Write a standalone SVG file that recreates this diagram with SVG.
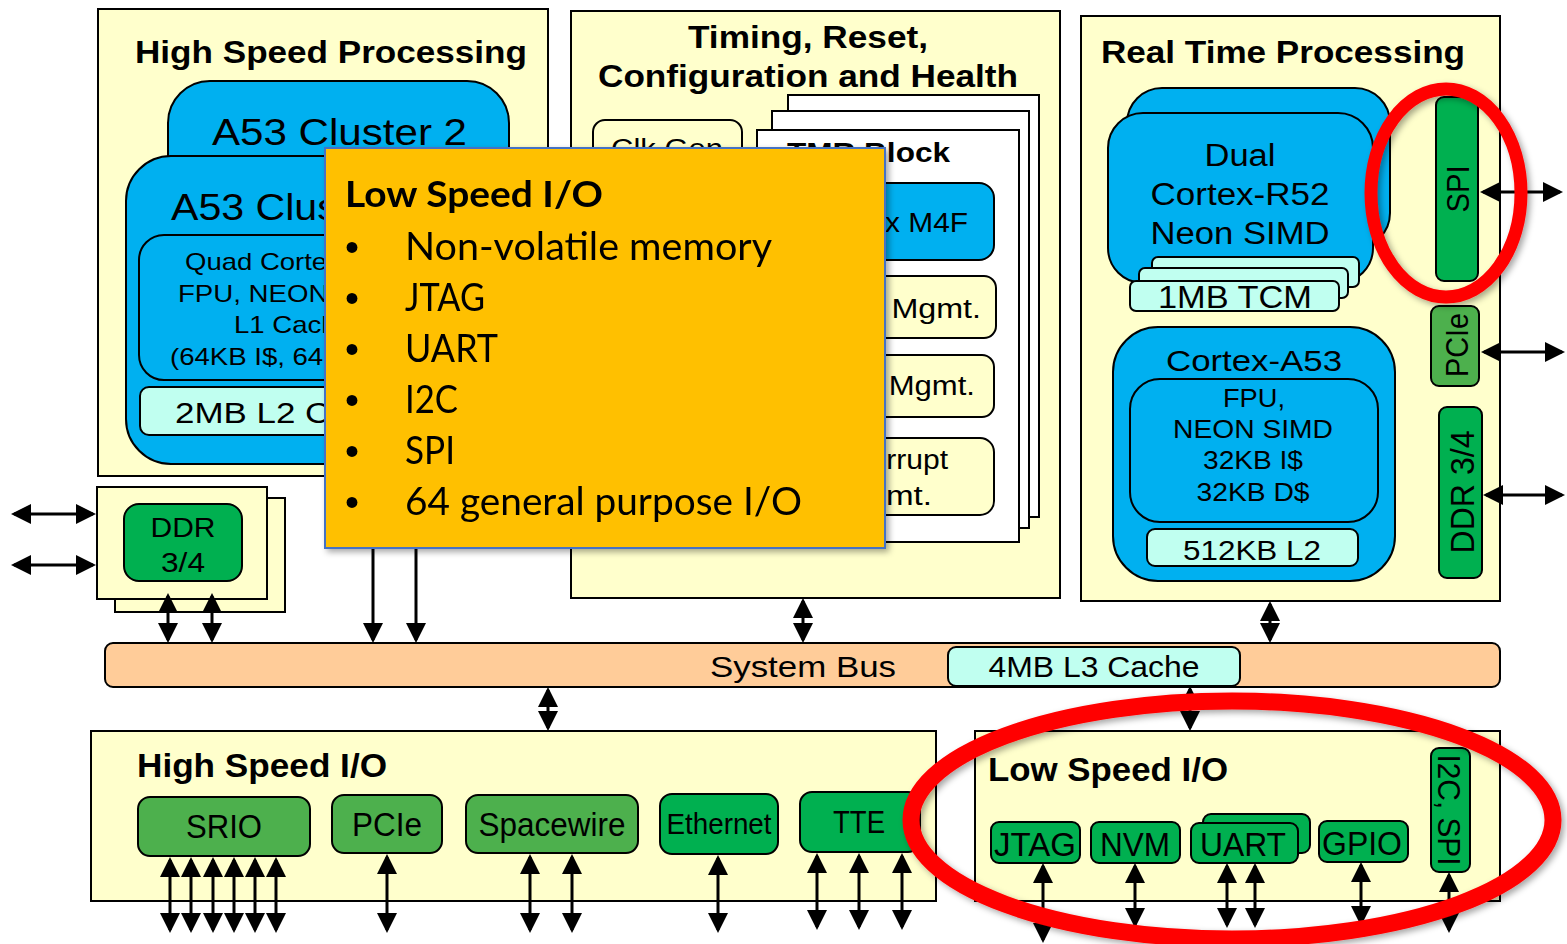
<svg xmlns="http://www.w3.org/2000/svg" width="1567" height="944" viewBox="0 0 1567 944">
<defs>
<style>
.box{fill:#FFFFCC;stroke:#000;stroke-width:2}
.wht{fill:#FFFFFF;stroke:#000;stroke-width:2}
.blue{fill:#00B0F0;stroke:#000;stroke-width:2}
.cyan{fill:#C0FFF0;stroke:#000;stroke-width:2}
.grn{fill:#00B050;stroke:#000;stroke-width:2}
.lgrn{fill:#4DB04D;stroke:#000;stroke-width:2}
.bus{fill:#FFCC99;stroke:#000;stroke-width:2}
.t{font-family:"Liberation Sans",Arial,sans-serif;fill:#000}
.b{font-weight:bold}
.c{text-anchor:middle}
.e{text-anchor:end}
.lt{font-family:Lato,"Open Sans",sans-serif;fill:#000}
.arr{stroke:#000;stroke-width:3;fill:none;marker-start:url(#ah);marker-end:url(#ah)}
.arr1{stroke:#000;stroke-width:3;fill:none;marker-end:url(#ah)}
.red{fill:none;stroke:#FF0000}
</style>
<marker id="ah" viewBox="0 0 20 20" refX="17" refY="10" markerWidth="20" markerHeight="20" markerUnits="userSpaceOnUse" orient="auto-start-reverse">
<path d="M0,0 L20,10 L0,20 z" fill="#000"/>
</marker>
<filter id="sh" x="-10%" y="-10%" width="130%" height="130%">
<feDropShadow dx="3" dy="3" stdDeviation="3" flood-color="#000" flood-opacity="0.35"/>
</filter>
</defs>

<g id="high-speed-processing">
<rect class="box" x="98" y="9" width="450" height="467"/>
<text class="t b" x="135" y="63" font-size="32" textLength="392" lengthAdjust="spacingAndGlyphs">High Speed Processing</text>
<rect class="blue" x="168" y="81" width="341" height="220" rx="42"/>
<text class="t" x="212" y="145" font-size="37" textLength="255" lengthAdjust="spacingAndGlyphs">A53 Cluster 2</text>
<rect class="blue" x="126" y="156" width="364" height="308" rx="45"/>
<text class="t" x="171" y="220" font-size="37" textLength="249" lengthAdjust="spacingAndGlyphs">A53 Cluster 1</text>
<rect class="blue" x="139" y="235" width="292" height="145" rx="25"/>
<text class="t" x="185" y="270" font-size="24" textLength="214" lengthAdjust="spacingAndGlyphs">Quad Cortex-A53</text>
<text class="t" x="178" y="302" font-size="24" textLength="227" lengthAdjust="spacingAndGlyphs">FPU, NEON SIMD</text>
<text class="t" x="234" y="333" font-size="24" textLength="118" lengthAdjust="spacingAndGlyphs">L1 Cache</text>
<text class="t" x="170" y="365" font-size="24" textLength="242" lengthAdjust="spacingAndGlyphs">(64KB I$, 64KB D$)</text>
<rect class="cyan" x="140" y="387" width="290" height="48" rx="9"/>
<text class="t" x="175" y="423" font-size="30" textLength="231" lengthAdjust="spacingAndGlyphs">2MB L2 Cache</text>
</g>

<g id="timing-reset-config-health">
<rect class="box" x="571" y="11" width="489" height="587"/>
<text class="t b c" x="808" y="48" font-size="31" textLength="240" lengthAdjust="spacingAndGlyphs">Timing, Reset,</text>
<text class="t b c" x="808" y="87" font-size="31" textLength="420" lengthAdjust="spacingAndGlyphs">Configuration and Health</text>
<rect class="box" x="593" y="120" width="149" height="90" rx="12"/>
<text class="t c" x="667" y="158" font-size="27" textLength="112" lengthAdjust="spacingAndGlyphs">Clk Gen</text>
<rect class="wht" x="788" y="95" width="251" height="422"/>
<rect class="wht" x="772" y="111" width="257" height="417"/>
<rect class="wht" x="757" y="130" width="262" height="412"/>
<text class="t b" x="787" y="162" font-size="28" textLength="163" lengthAdjust="spacingAndGlyphs">TMR Block</text>
<rect class="blue" x="790" y="183" width="204" height="77" rx="15"/>
<text class="t c" x="890" y="232" font-size="28" textLength="156" lengthAdjust="spacingAndGlyphs">Cortex M4F</text>
<rect class="box" x="790" y="276" width="206" height="62" rx="12"/>
<text class="t e" x="981" y="318" font-size="27" textLength="190" lengthAdjust="spacingAndGlyphs">Power Mgmt.</text>
<rect class="box" x="790" y="355" width="204" height="62" rx="12"/>
<text class="t e" x="975" y="395" font-size="27" textLength="176" lengthAdjust="spacingAndGlyphs">Reset Mgmt.</text>
<rect class="box" x="790" y="438" width="204" height="77" rx="14"/>
<text class="t e" x="948" y="469" font-size="27" textLength="112" lengthAdjust="spacingAndGlyphs">Interrupt</text>
<text class="t e" x="932" y="505" font-size="27" textLength="92" lengthAdjust="spacingAndGlyphs">Mgmt.</text>
</g>

<g id="real-time-processing">
<rect class="box" x="1081" y="16" width="419" height="585"/>
<text class="t b" x="1101" y="63" font-size="32" textLength="364" lengthAdjust="spacingAndGlyphs">Real Time Processing</text>
<rect class="blue" x="1127" y="88" width="263" height="160" rx="35"/>
<rect class="blue" x="1108" y="113" width="265" height="170" rx="35"/>
<text class="t c" x="1240" y="166" font-size="31" textLength="71" lengthAdjust="spacingAndGlyphs">Dual</text>
<text class="t c" x="1240" y="205" font-size="31" textLength="179" lengthAdjust="spacingAndGlyphs">Cortex-R52</text>
<text class="t c" x="1240" y="244" font-size="31" textLength="179" lengthAdjust="spacingAndGlyphs">Neon SIMD</text>
<rect class="cyan" x="1152" y="257" width="207" height="30" rx="6"/>
<rect class="cyan" x="1139" y="268" width="209" height="30" rx="6"/>
<rect class="cyan" x="1130" y="281" width="209" height="30" rx="6"/>
<text class="t c" x="1235" y="308" font-size="31" textLength="154" lengthAdjust="spacingAndGlyphs">1MB TCM</text>
<rect class="blue" x="1113" y="327" width="282" height="254" rx="45"/>
<text class="t c" x="1254" y="371" font-size="30" textLength="176" lengthAdjust="spacingAndGlyphs">Cortex-A53</text>
<rect class="blue" x="1130" y="379" width="248" height="143" rx="30"/>
<text class="t c" x="1254" y="407" font-size="25" textLength="62" lengthAdjust="spacingAndGlyphs">FPU,</text>
<text class="t c" x="1253" y="438" font-size="25" textLength="160" lengthAdjust="spacingAndGlyphs">NEON SIMD</text>
<text class="t c" x="1253" y="469" font-size="25" textLength="100" lengthAdjust="spacingAndGlyphs">32KB I$</text>
<text class="t c" x="1253" y="501" font-size="25" textLength="113" lengthAdjust="spacingAndGlyphs">32KB D$</text>
<rect class="cyan" x="1147" y="529" width="211" height="37" rx="8"/>
<text class="t c" x="1252" y="560" font-size="28" textLength="138" lengthAdjust="spacingAndGlyphs">512KB L2</text>
<rect class="grn" x="1436" y="97" width="42" height="184" rx="8"/>
<text class="t c" transform="translate(1469,189) rotate(-90)" font-size="32" textLength="47" lengthAdjust="spacingAndGlyphs">SPI</text>
<rect class="lgrn" x="1431" y="306" width="48" height="80" rx="8"/>
<text class="t c" transform="translate(1468,345) rotate(-90)" font-size="32" textLength="64" lengthAdjust="spacingAndGlyphs">PCIe</text>
<rect class="grn" x="1439" y="407" width="43" height="171" rx="8"/>
<text class="t c" transform="translate(1474,492) rotate(-90)" font-size="33" textLength="123" lengthAdjust="spacingAndGlyphs">DDR 3/4</text>
</g>

<g id="ddr-controller">
<rect class="box" x="115" y="498" width="170" height="114"/>
<rect class="box" x="97" y="487" width="170" height="112"/>
<rect class="grn" x="124" y="504" width="118" height="77" rx="15"/>
<text class="t c" x="183" y="537" font-size="28" textLength="65" lengthAdjust="spacingAndGlyphs">DDR</text>
<text class="t c" x="183" y="572" font-size="28" textLength="44" lengthAdjust="spacingAndGlyphs">3/4</text>
</g>

<g id="system-bus">
<rect class="bus" x="105" y="643" width="1395" height="44" rx="8"/>
<text class="t c" x="803" y="677" font-size="30" textLength="186" lengthAdjust="spacingAndGlyphs">System Bus</text>
<rect class="cyan" x="948" y="647" width="292" height="39" rx="8"/>
<text class="t c" x="1094" y="677" font-size="29" textLength="211" lengthAdjust="spacingAndGlyphs">4MB L3 Cache</text>
</g>

<g id="high-speed-io">
<rect class="box" x="91" y="731" width="845" height="170"/>
<text class="t b" x="137" y="777" font-size="33" textLength="250" lengthAdjust="spacingAndGlyphs">High Speed I/O</text>
<rect class="lgrn" x="138" y="797" width="172" height="59" rx="12"/>
<text class="t c" x="224" y="838" font-size="33" textLength="76" lengthAdjust="spacingAndGlyphs">SRIO</text>
<rect class="lgrn" x="332" y="795" width="110" height="58" rx="12"/>
<text class="t c" x="387" y="836" font-size="33" textLength="70" lengthAdjust="spacingAndGlyphs">PCIe</text>
<rect class="lgrn" x="466" y="795" width="172" height="58" rx="12"/>
<text class="t c" x="552" y="836" font-size="33" textLength="147" lengthAdjust="spacingAndGlyphs">Spacewire</text>
<rect class="grn" x="660" y="794" width="118" height="60" rx="12"/>
<text class="t c" x="719" y="834" font-size="30" textLength="105" lengthAdjust="spacingAndGlyphs">Ethernet</text>
<rect class="grn" x="800" y="792" width="120" height="60" rx="12"/>
<text class="t c" x="859" y="833" font-size="31" textLength="52" lengthAdjust="spacingAndGlyphs">TTE</text>
</g>

<g id="low-speed-io">
<rect class="box" x="975" y="731" width="525" height="170"/>
<text class="t b" x="988" y="781" font-size="33" textLength="240" lengthAdjust="spacingAndGlyphs">Low Speed I/O</text>
<rect class="grn" x="991" y="822" width="89" height="41" rx="8"/>
<text class="t c" x="1035" y="856" font-size="34" textLength="82" lengthAdjust="spacingAndGlyphs">JTAG</text>
<rect class="grn" x="1091" y="822" width="89" height="41" rx="8"/>
<text class="t c" x="1135" y="856" font-size="34" textLength="70" lengthAdjust="spacingAndGlyphs">NVM</text>
<rect class="grn" x="1203" y="814" width="107" height="39" rx="8"/>
<rect class="grn" x="1191" y="823" width="107" height="40" rx="8"/>
<text class="t c" x="1243" y="856" font-size="34" textLength="86" lengthAdjust="spacingAndGlyphs">UART</text>
<rect class="grn" x="1319" y="821" width="89" height="41" rx="8"/>
<text class="t c" x="1362" y="855" font-size="34" textLength="80" lengthAdjust="spacingAndGlyphs">GPIO</text>
<rect class="grn" x="1431" y="748" width="39" height="124" rx="8"/>
<text class="t c" transform="translate(1438,810) rotate(90)" font-size="31" textLength="111" lengthAdjust="spacingAndGlyphs">I2C, SPI</text>
</g>

<g id="connectors">
<line class="arr" x1="14" y1="514" x2="93" y2="514"/>
<line class="arr" x1="14" y1="565" x2="93" y2="565"/>
<line class="arr" x1="168" y1="596" x2="168" y2="640"/>
<line class="arr" x1="212" y1="596" x2="212" y2="640"/>
<line class="arr1" x1="373" y1="548" x2="373" y2="640"/>
<line class="arr1" x1="416" y1="548" x2="416" y2="640"/>
<line class="arr" x1="803" y1="601" x2="803" y2="640"/>
<line class="arr" x1="1270" y1="604" x2="1270" y2="640"/>
<line class="arr" x1="548" y1="690" x2="548" y2="728"/>
<line class="arr" x1="1190" y1="689" x2="1190" y2="728"/>
<line class="arr" x1="1483" y1="192" x2="1560" y2="192"/>
<line class="arr" x1="1484" y1="352" x2="1562" y2="352"/>
<line class="arr" x1="1486" y1="495" x2="1562" y2="495"/>
<line class="arr" x1="170" y1="860" x2="170" y2="930"/>
<line class="arr" x1="191" y1="860" x2="191" y2="930"/>
<line class="arr" x1="213" y1="860" x2="213" y2="930"/>
<line class="arr" x1="234" y1="860" x2="234" y2="930"/>
<line class="arr" x1="255" y1="860" x2="255" y2="930"/>
<line class="arr" x1="276" y1="860" x2="276" y2="930"/>
<line class="arr" x1="387" y1="857" x2="387" y2="930"/>
<line class="arr" x1="530" y1="857" x2="530" y2="930"/>
<line class="arr" x1="572" y1="857" x2="572" y2="930"/>
<line class="arr" x1="718" y1="858" x2="718" y2="930"/>
<line class="arr" x1="817" y1="856" x2="817" y2="927"/>
<line class="arr" x1="859" y1="856" x2="859" y2="927"/>
<line class="arr" x1="902" y1="856" x2="902" y2="927"/>
<line class="arr" x1="1043" y1="866" x2="1043" y2="940"/>
<line class="arr" x1="1135" y1="866" x2="1135" y2="925"/>
<line class="arr" x1="1227" y1="866" x2="1227" y2="925"/>
<line class="arr" x1="1255" y1="866" x2="1255" y2="925"/>
<line class="arr" x1="1361" y1="865" x2="1361" y2="923"/>
<line class="arr" x1="1449" y1="875" x2="1449" y2="930"/>
</g>

<g id="low-speed-io-callout" filter="url(#sh)">
<rect x="325" y="148" width="560" height="400" fill="#FFC000" stroke="#4472C4" stroke-width="2"/>
<text class="lt" x="345" y="207" font-size="36" font-weight="bold" textLength="258" lengthAdjust="spacingAndGlyphs">Low Speed I/O</text>
<text class="t c" x="352" y="261" font-size="40">•</text>
<text class="lt" x="405" y="260" font-size="38" textLength="367" lengthAdjust="spacingAndGlyphs">Non-volatile memory</text>
<text class="t c" x="352" y="312" font-size="40">•</text>
<text class="lt" x="405" y="311" font-size="38" textLength="80" lengthAdjust="spacingAndGlyphs">JTAG</text>
<text class="t c" x="352" y="363" font-size="40">•</text>
<text class="lt" x="405" y="362" font-size="38" textLength="93" lengthAdjust="spacingAndGlyphs">UART</text>
<text class="t c" x="352" y="414" font-size="40">•</text>
<text class="lt" x="405" y="413" font-size="38" textLength="53" lengthAdjust="spacingAndGlyphs">I2C</text>
<text class="t c" x="352" y="465" font-size="40">•</text>
<text class="lt" x="405" y="464" font-size="38" textLength="50" lengthAdjust="spacingAndGlyphs">SPI</text>
<text class="t c" x="352" y="516" font-size="40">•</text>
<text class="lt" x="405" y="515" font-size="38" textLength="397" lengthAdjust="spacingAndGlyphs">64 general purpose I/O</text>
</g>

<g id="highlights" filter="url(#sh)">
<ellipse class="red" cx="1446" cy="193" rx="75" ry="104" stroke-width="13"/>
<ellipse class="red" cx="1232" cy="820" rx="321" ry="119" stroke-width="17"/>
</g>
</svg>
